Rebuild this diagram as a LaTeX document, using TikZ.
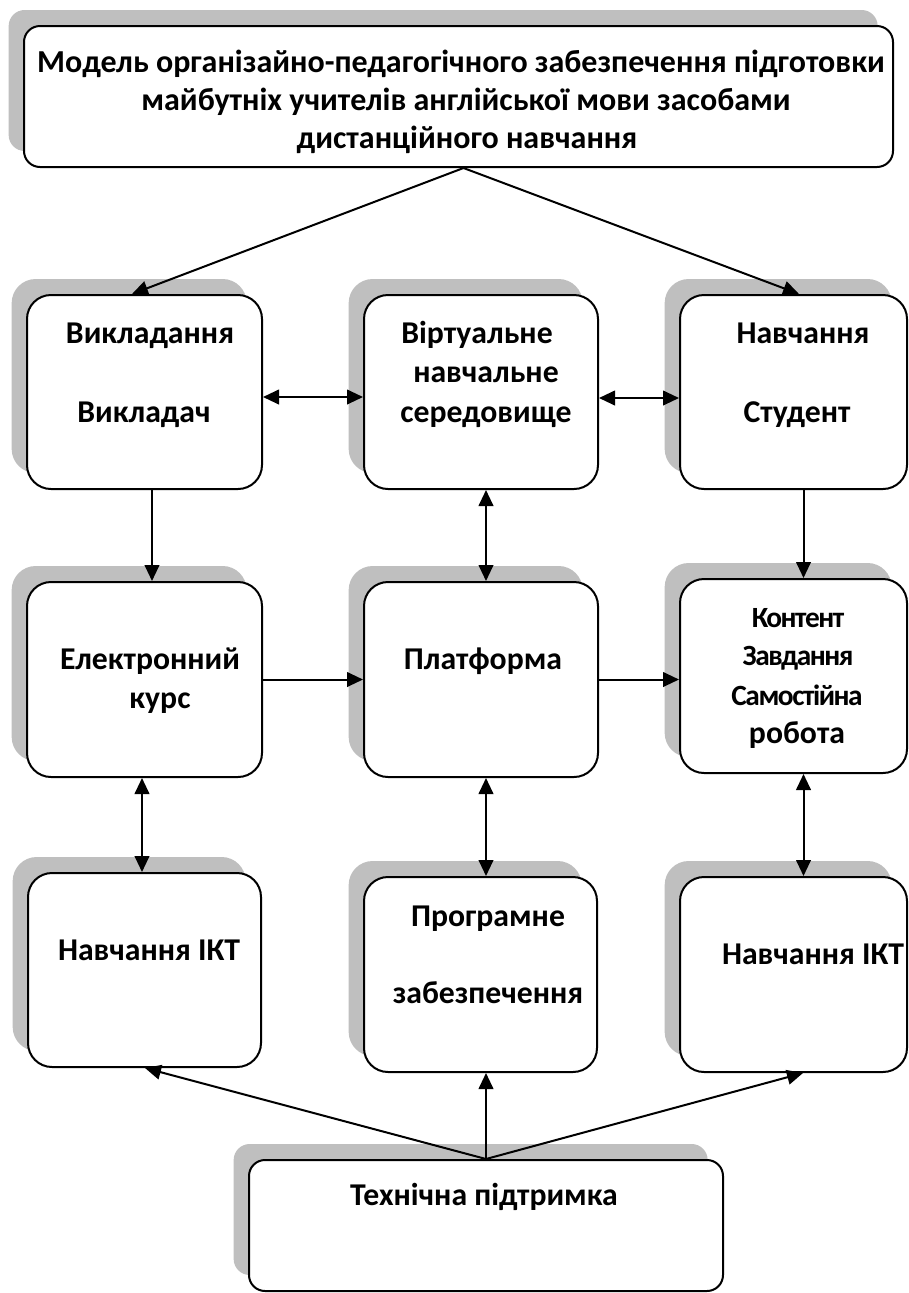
\documentclass[tikz,border=0pt]{standalone}
\usepackage{fontspec}
\setmainfont{Carlito}
\usetikzlibrary{arrows.meta,shadows,fit,calc}
\definecolor{shadowgray}{RGB}{191,191,191}
\tikzset{
  box/.style={draw=black, line width=1.5pt, fill=white, inner sep=0pt, rounded corners=18pt,
    general shadow={fill=shadowgray, shadow xshift=-11.5pt, shadow yshift=12pt}},
  smallbox/.style={box, rounded corners=12pt},
  ttl/.style={font=\fontsize{24}{28}\selectfont\bfseries, inner sep=0pt, anchor=base},
  lbl/.style={font=\fontsize{23.8}{28}\selectfont\bfseries, inner sep=0pt, anchor=base},
  cnd/.style={font=\fontsize{22}{26}\selectfont\bfseries\addfontfeature{LetterSpace=-5}, inner sep=0pt, anchor=base},
  arr/.style={line width=1.5pt, -{Triangle[length=12pt,width=11pt]}},
  darr/.style={line width=1.5pt, {Triangle[length=12pt,width=11pt]}-{Triangle[length=12pt,width=11pt]}}
}
\begin{document}
\begin{tikzpicture}[x=0.75pt,y=-0.75pt]
\useasboundingbox (0,0) rectangle (909,1293);
% boxes
\node[smallbox, fit={(24,26)(893,167)}] (T) {};
\node[box, fit={(27,295)(262,489)}] (A1) {};
\node[box, fit={(364,295)(598,489)}] (B1) {};
\node[box, fit={(680,295)(907,489)}] (C1) {};
\node[box, fit={(27,582)(262,777)}] (A2) {};
\node[box, fit={(364,582)(598,777)}] (B2) {};
\node[box, fit={(680,579)(907,773)}] (C2) {};
\node[box, fit={(28,873)(261,1067)}] (A3) {};
\node[box, fit={(364,877)(597,1072)}] (B3) {};
\node[box, fit={(680,877)(907,1072)}] (C3) {};
\node[smallbox, fit={(249,1160)(723,1291)}] (D) {};
% texts
\node[ttl] (t1) at (461,72) {Модель організайно-педагогічного забезпечення підготовки};
\node[ttl] (t2) at (466,110) {майбутніх учителів англійської мови засобами};
\node[ttl] (t3) at (467,148) {дистанційного навчання};
\node[lbl] (a1a) at (150,343) {Викладання};
\node[lbl] (a1b) at (144,422) {Викладач};
\node[lbl] (b1a) at (477,343) {Віртуальне};
\node[lbl] (b1b) at (486,382) {навчальне};
\node[lbl] (b1c) at (486,422) {середовище};
\node[lbl] (c1a) at (803,343) {Навчання};
\node[lbl] (c1b) at (797,422) {Студент};
\node[lbl] (a2a) at (150,669) {Електронний};
\node[lbl] (a2b) at (160,708) {курс};
\node[lbl] (b2a) at (483,669) {Платформа};
\node[cnd] (c2a) at (798,627) {Контент};
\node[cnd] (c2b) at (798,665) {Завдання};
\node[cnd] (c2c) at (797,705) {Самостійна};
\node[lbl] (c2d) at (797,743) {робота};
\node[lbl] (a3a) at (149,960) {Навчання ІКТ};
\node[lbl] (b3a) at (488,926) {Програмне};
\node[lbl] (b3b) at (488,1003) {забезпечення};
\node[lbl] (c3a) at (813,964) {Навчання ІКТ};
\node[lbl] (da) at (484,1205) {Технічна підтримка};
% connectors
\draw[arr] ($(T.south)+(5,0)$) -- ($(A1.north west)+(106,0)$);
\draw[arr] ($(T.south)+(5,0)$) -- ($(C1.north west)+(120,0)$);
\draw[darr] ($(A1.east)+(0,5)$) -- ($(B1.west)+(0,5)$);
\draw[darr] ($(B1.east)+(0,6)$) -- ($(C1.west)+(0,6)$);
\draw[arr] ($(A1.south)+(7.5,0)$) -- ($(A2.north)+(7.5,0)$);
\draw[darr] ($(B1.south)+(5,0)$) -- ($(B2.north)+(5,0)$);
\draw[arr] ($(C1.south)+(10,0)$) -- ($(C2.north)+(10,0)$);
\draw[arr] (A2.east) -- (B2.west);
\draw[arr] (B2.east) -- (B2.east -| C2.west);
\draw[darr] ($(A2.south)+(-2.5,0)$) -- ($(A3.north)+(-2.5,0)$);
\draw[darr] ($(B2.south)+(5,0)$) -- ($(B3.north)+(5.5,0)$);
\draw[darr] ($(C2.south)+(10,0)$) -- ($(C3.north)+(10,0)$);
\draw[arr] (D.north) -- ($(A3.south)+(0.5,0)$);
\draw[arr] (D.north) -- ($(B3.south)+(5.5,0)$);
\draw[arr] (D.north) -- ($(C3.south)+(9.5,0)$);
\end{tikzpicture}
\end{document}
